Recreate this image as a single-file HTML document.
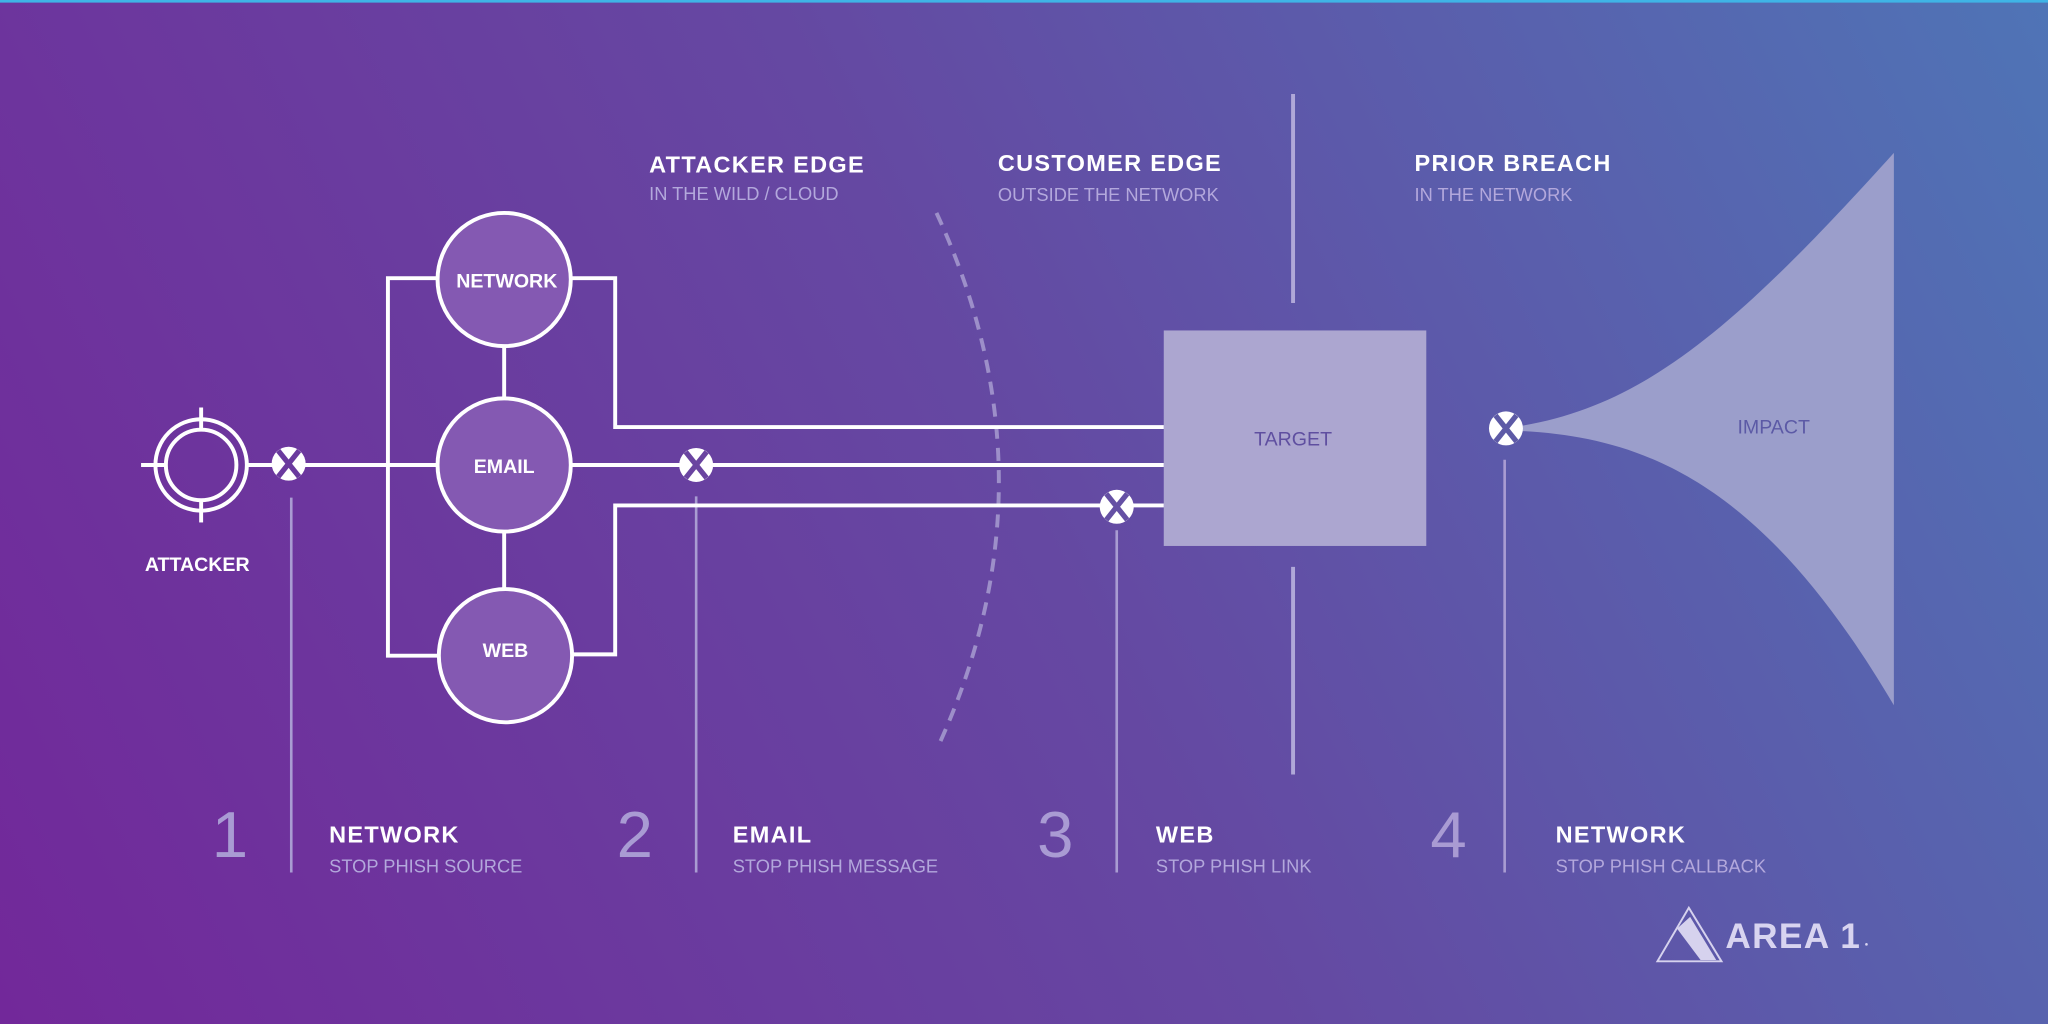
<!DOCTYPE html>
<html><head><meta charset="utf-8"><style>
html,body{margin:0;padding:0;width:2048px;height:1024px;overflow:hidden}
svg{display:block}
text{font-family:"Liberation Sans",sans-serif}
</style></head><body>
<svg width="2048" height="1024" viewBox="0 0 1568 784" xmlns="http://www.w3.org/2000/svg">
<defs>
<linearGradient id="bg" x1="0" y1="784" x2="1568" y2="0" gradientUnits="userSpaceOnUse">
<stop offset="0" stop-color="#72289a"/>
<stop offset="0.5" stop-color="#6548a2"/>
<stop offset="1" stop-color="#4f74b6"/>
</linearGradient>
</defs>
<rect width="1568" height="784" fill="url(#bg)"/>
<rect width="1568" height="2" fill="#3fb4e6"/>

<!-- vertical guide lines -->
<g stroke="#a99cd2" stroke-width="2">
<line x1="223" y1="381" x2="223" y2="668"/>
<line x1="533" y1="380" x2="533" y2="668"/>
<line x1="855" y1="406" x2="855" y2="668"/>
<line x1="1152" y1="352" x2="1152" y2="668"/>
</g>
<g stroke="#b0a8d8" stroke-width="3">
<line x1="990" y1="72" x2="990" y2="232"/>
<line x1="990" y1="434" x2="990" y2="593"/>
</g>
<!-- dashed arc -->
<path d="M717 163 Q812 368 718 572" fill="none" stroke="#9d8fc9" stroke-width="3" stroke-dasharray="10 7"/>

<!-- impact -->
<path d="M1165 326 C1260 310 1330 250 1450 117 L1450 540 C1350 370 1260 335 1165 330 Z" fill="#9b9ecb"/>
<text x="1358" y="332" font-size="15" fill="#5c5aa6" text-anchor="middle">IMPACT</text>

<!-- target -->
<rect x="891" y="253" width="201" height="165" fill="#aca6d0"/>
<text x="990" y="341" font-size="15" fill="#5f4fa0" text-anchor="middle">TARGET</text>

<!-- connectors -->
<g stroke="#fff" stroke-width="3" fill="none">
<line x1="190" y1="356" x2="336" y2="356"/>
<polyline points="336,213 297,213 297,502 336,502"/>
<polyline points="437,213 471,213 471,327 891,327"/>
<line x1="437" y1="356" x2="891" y2="356"/>
<polyline points="437,501 471,501 471,387 891,387"/>
<line x1="386" y1="265" x2="386" y2="305"/>
<line x1="386" y1="407" x2="386" y2="451"/>
<!-- attacker -->
<circle cx="154" cy="356" r="35"/>
<circle cx="154" cy="356" r="27"/>
<line x1="154" y1="312" x2="154" y2="329"/>
<line x1="154" y1="383" x2="154" y2="400"/>
<line x1="108" y1="356" x2="127" y2="356"/>
</g>
<g stroke="#fff" stroke-width="3" fill="#8459b2">
<circle cx="386" cy="214" r="51"/>
<circle cx="386" cy="356" r="51"/>
<circle cx="387" cy="502" r="51"/>
</g>
<g fill="#fff" font-size="15" font-weight="bold" text-anchor="middle">
<text x="388" y="220">NETWORK</text>
<text x="386" y="362">EMAIL</text>
<text x="387" y="503">WEB</text>
<text x="151" y="437">ATTACKER</text>
</g>

<!-- X markers -->
<g id="xm">
<circle cx="221" cy="355" r="13" fill="#fff"/>
<path d="M213 345 L229 365 M229 345 L213 365" stroke="#6a3a9e" stroke-width="4"/>
</g>
<g transform="translate(312,1)"><circle cx="221" cy="355" r="13" fill="#fff"/><path d="M213 345 L229 365 M229 345 L213 365" stroke="#6a44a0" stroke-width="4"/></g>
<g transform="translate(634,33)"><circle cx="221" cy="355" r="13" fill="#fff"/><path d="M213 345 L229 365 M229 345 L213 365" stroke="#6550a4" stroke-width="4"/></g>
<g transform="translate(932,-27)"><circle cx="221" cy="355" r="13" fill="#fff"/><path d="M213 345 L229 365 M229 345 L213 365" stroke="#5d5aa6" stroke-width="4"/></g>

<!-- headers -->
<g font-size="18" font-weight="bold" fill="#fff" letter-spacing="1">
<text x="497" y="132">ATTACKER EDGE</text>
<text x="764" y="131">CUSTOMER EDGE</text>
<text x="1083" y="131">PRIOR BREACH</text>
<text x="252" y="645">NETWORK</text>
<text x="561" y="645">EMAIL</text>
<text x="885" y="645">WEB</text>
<text x="1191" y="645">NETWORK</text>
</g>
<g font-size="14" fill="#b3a8dc">
<text x="497" y="153">IN THE WILD / CLOUD</text>
<text x="764" y="154">OUTSIDE THE NETWORK</text>
<text x="1083" y="154">IN THE NETWORK</text>
<text x="252" y="668">STOP PHISH SOURCE</text>
<text x="561" y="668">STOP PHISH MESSAGE</text>
<text x="885" y="668">STOP PHISH LINK</text>
<text x="1191" y="668">STOP PHISH CALLBACK</text>
</g>
<g font-size="50" fill="#a99bd3" text-anchor="middle">
<text x="176" y="656">1</text>
<text x="486" y="656">2</text>
<text x="808" y="656">3</text>
<text x="1109" y="656">4</text>
</g>

<!-- logo -->
<path d="M1293 695 L1318 736 L1269 736 Z" fill="none" stroke="#d6d2ee" stroke-width="1.5"/>
<path d="M1284 711 L1294 702 L1314 735 L1302 735 Z" fill="#d6d2ee"/>
<text x="1321" y="726" font-size="27" font-weight="bold" fill="#d8d4f0" letter-spacing="1">AREA 1</text>
<circle cx="1429" cy="723" r="1" fill="#d8d4f0"/>
</svg>
</body></html>
